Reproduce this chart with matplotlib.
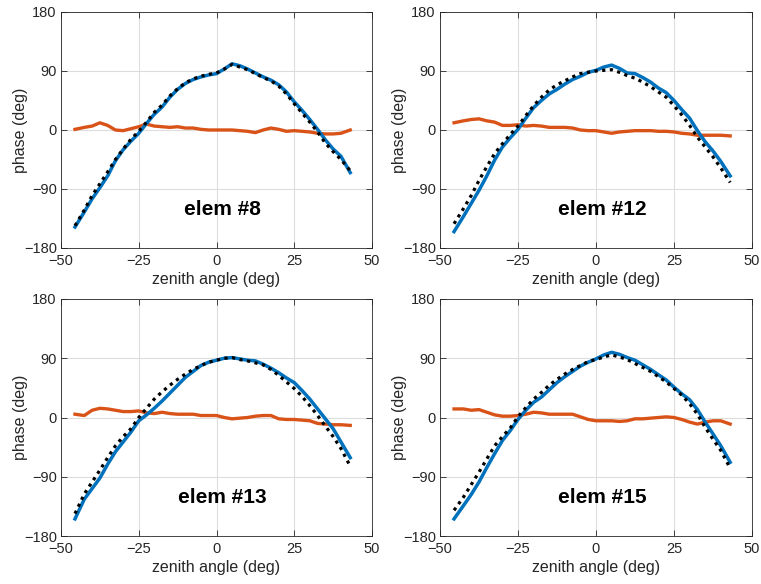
import matplotlib.pyplot as plt
import numpy as np

plt.rcParams['font.family'] = ['Liberation Sans', 'DejaVu Sans']

# zenith angle samples (deg)
zenith = [-45.5, -42.5, -40, -37.5, -35, -32.5, -30, -27.5, -25, -22.5,
          -20, -17.5, -15, -12.5, -10, -7.5, -5, -2.5, 0, 2.5,
          5, 7.5, 10, 12.5, 15, 17.5, 20, 22.5, 25, 27.5,
          30, 32.5, 35, 37.5, 40, 43]

# measured phase (deg) per element
meas_8 = [-148, -125, -105, -88, -70, -47, -30, -17, -5, 10,
          24, 35, 50, 62, 71, 77, 81, 84, 86, 93,
          101, 98, 93, 87, 81, 76, 69, 58, 43, 30,
          16, 1, -15, -29, -40, -65]
meas_12 = [-155, -132, -112, -92, -70, -46, -26, -12, 1, 18,
           34, 45, 55, 62, 70, 77, 82, 88, 91, 96,
           99, 94, 87, 86, 80, 73, 64, 57, 45, 31,
           18, -1, -18, -32, -48, -70]
meas_13 = [-154, -124, -108, -92, -71, -52, -37, -22, -5, 4,
           14, 25, 37, 49, 61, 70, 79, 84, 87, 90,
           91, 89, 87, 86, 81, 75, 68, 60, 53, 41,
           28, 13, -2, -17, -37, -61]
meas_15 = [-154, -134, -117, -98, -76, -55, -35, -20, -3, 11,
           23, 31, 42, 53, 62, 70, 78, 84, 89, 95,
           99, 96, 91, 87, 80, 73, 65, 57, 46, 36,
           27, 12, -7, -25, -43, -68]

# model phase (deg) per element
model_8 = [-146, -122, -100, -82, -64, -45, -29, -14, -2, 12,
           27, 38, 52, 63, 72, 78, 82, 85, 87, 93,
           100, 96, 92, 86, 80, 75, 67, 55, 40, 26,
           12, -3, -20, -33, -45, -62]
model_12 = [-143, -120, -100, -77, -56, -36, -21, -7, 6, 22,
            37, 50, 61, 69, 75, 81, 86, 88, 90, 91,
            92, 88, 83, 79, 73, 66, 58, 50, 37, 23,
            7, -11, -26, -41, -58, -80]
model_13 = [-146, -116, -98, -80, -61, -43, -29, -17, 0, 14,
            28, 39, 49, 58, 66, 73, 79, 84, 87, 90,
            91, 88, 86, 83, 80, 73, 64, 54, 44, 32,
            18, 3, -13, -29, -47, -74]
model_15 = [-141, -121, -102, -83, -63, -43, -29, -16, 1, 15,
            28, 38, 49, 58, 66, 73, 79, 85, 88, 92,
            95, 92, 88, 82, 76, 70, 62, 54, 44, 34,
            21, 5, -15, -33, -50, -77]

# residual phase (deg) per element
resid_8 = [1, 4, 6, 11, 7, 0, -1, 2, 5, 9,
           6, 5, 4, 5, 3, 3, 1, 0, 0, 0,
           0, -1, -2, -4, 0, 3, 1, -2, -1, -2,
           -3, -5, -6, -6, -5, 0]
resid_12 = [11, 14, 16, 17, 14, 12, 7, 7, 8, 6,
            7, 6, 4, 4, 4, 3, 0, -1, -1, -3,
            -5, -3, -2, -1, -1, -1, -2, -2, -3, -5,
            -6, -8, -8, -8, -8, -9]
resid_13 = [5, 3, 11, 14, 13, 11, 9, 9, 10, 7,
            6, 8, 6, 5, 5, 5, 3, 3, 3, 0,
            -2, -1, 0, 2, 3, 3, -2, -3, -3, -4,
            -5, -9, -10, -11, -11, -12]
resid_15 = [13, 13, 11, 12, 8, 4, 2, 2, 3, 5,
            8, 7, 5, 5, 5, 5, 1, -3, -5, -5,
            -5, -6, -5, -2, -2, -1, 0, 1, 0, -3,
            -7, -10, -7, -5, -5, -10]

labels = ['elem #8', 'elem #12', 'elem #13', 'elem #15']
measured = [meas_8, meas_12, meas_13, meas_15]
models = [model_8, model_12, model_13, model_15]
residuals = [resid_8, resid_12, resid_13, resid_15]

W, H = 761, 584
fig = plt.figure(figsize=(W / 100, H / 100), dpi=100)

# axes boxes in pixels: left, top, right, bottom
boxes = [(61, 12, 372, 248), (440, 12, 752, 248),
         (61, 299, 372, 536), (440, 299, 752, 536)]

dark = '#262626'
for box, name, ym, yf, yr in zip(boxes, labels, measured, models, residuals):
    l, t, r, b = box
    ax = fig.add_axes([l / W, 1 - b / H, (r - l) / W, (b - t) / H])
    ax.plot(zenith, yr, color='#D95319', lw=2.4, zorder=3)
    ax.plot(zenith, ym, color='#0072BD', lw=2.5, zorder=4)
    ax.plot(zenith, yf, color='black', lw=2.3, ls=(0, (1, 1.4)), zorder=5)

    ax.set_xlim(-50, 50)
    ax.set_ylim(-180, 180)
    ax.set_xticks([-50, -25, 0, 25, 50])
    ax.set_yticks([-180, -90, 0, 90, 180])
    ax.grid(True, color='#dddddd', lw=0.8)
    ax.set_axisbelow(True)
    ax.tick_params(direction='in', length=4, width=0.6, colors=dark,
                   labelsize=10.5, top=True, right=True, pad=3)
    ax.tick_params(axis='x', pad=4.5)
    for s in ax.spines.values():
        s.set_color(dark)
        s.set_linewidth(0.6)
    ax.set_xlabel('zenith angle (deg)', fontsize=11.5, color=dark, labelpad=3)
    ax.set_ylabel('phase (deg)', fontsize=11.5, color=dark, labelpad=-3)
    ax.text(2, -122, name, ha='center', va='center', fontsize=15,
            fontweight='bold', color='black')

fig.savefig('out.png', dpi=100)
